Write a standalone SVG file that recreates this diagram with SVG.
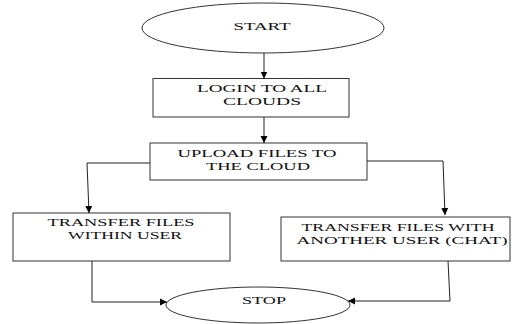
<svg xmlns="http://www.w3.org/2000/svg" width="529" height="324" viewBox="0 0 529 324">
<defs>
<marker id="ah" markerWidth="8" markerHeight="8" refX="7" refY="4" orient="auto" markerUnits="userSpaceOnUse">
<path d="M0,0.5 L7,4 L0,7.5 Z" fill="#000"/>
</marker>
<style>
.n{fill:#fff;stroke:#333;stroke-width:1}
.t{font-family:"Liberation Serif","Times New Roman",serif;font-size:11px;fill:#111;text-anchor:middle}
.c{fill:none;stroke:#222;stroke-width:1}
</style>
</defs>
<rect width="529" height="324" fill="#fff"/>
<g id="start"><ellipse class="n" cx="263" cy="28" rx="121" ry="25"/><text class="t" x="262" y="30" textLength="57" lengthAdjust="spacingAndGlyphs">START</text></g>
<g id="login"><rect class="n" x="153" y="78.5" width="196" height="38.5"/><text class="t" x="262" y="91.5" textLength="130" lengthAdjust="spacingAndGlyphs">LOGIN TO ALL</text><text class="t" x="262" y="104.5" textLength="78" lengthAdjust="spacingAndGlyphs">CLOUDS</text></g>
<g id="upload"><rect class="n" x="150" y="143" width="217" height="37"/><text class="t" x="257" y="156.5" textLength="159" lengthAdjust="spacingAndGlyphs">UPLOAD FILES TO</text><text class="t" x="258" y="169.5" textLength="104" lengthAdjust="spacingAndGlyphs">THE CLOUD</text></g>
<g id="within"><rect class="n" x="13" y="213" width="217" height="48"/><text class="t" x="121" y="225.5" textLength="147" lengthAdjust="spacingAndGlyphs">TRANSFER FILES</text><text class="t" x="125" y="238.5" textLength="114" lengthAdjust="spacingAndGlyphs">WITHIN USER</text></g>
<g id="another"><rect class="n" x="281" y="217" width="229" height="44"/><text class="t" x="398" y="230.5" textLength="193" lengthAdjust="spacingAndGlyphs">TRANSFER FILES WITH</text><text class="t" x="402" y="243.5" textLength="211" lengthAdjust="spacingAndGlyphs">ANOTHER USER (CHAT)</text></g>
<g id="stop"><ellipse class="n" cx="258" cy="305" rx="92" ry="18"/><text class="t" x="264" y="304" textLength="44" lengthAdjust="spacingAndGlyphs">STOP</text></g>
<g id="connectors">
<path class="c" d="M264,53 L264,78.5" marker-end="url(#ah)"/>
<path class="c" d="M264,117 L264,143" marker-end="url(#ah)"/>
<path class="c" d="M150,163 L87,163 L89,213" marker-end="url(#ah)"/>
<path class="c" d="M367,161 L443,161 L445,215" marker-end="url(#ah)"/>
<path class="c" d="M92,261 L92,302 L167,302" marker-end="url(#ah)"/>
<path class="c" d="M448,261 L450,301 L348,301" marker-end="url(#ah)"/>
</g>
</svg>
